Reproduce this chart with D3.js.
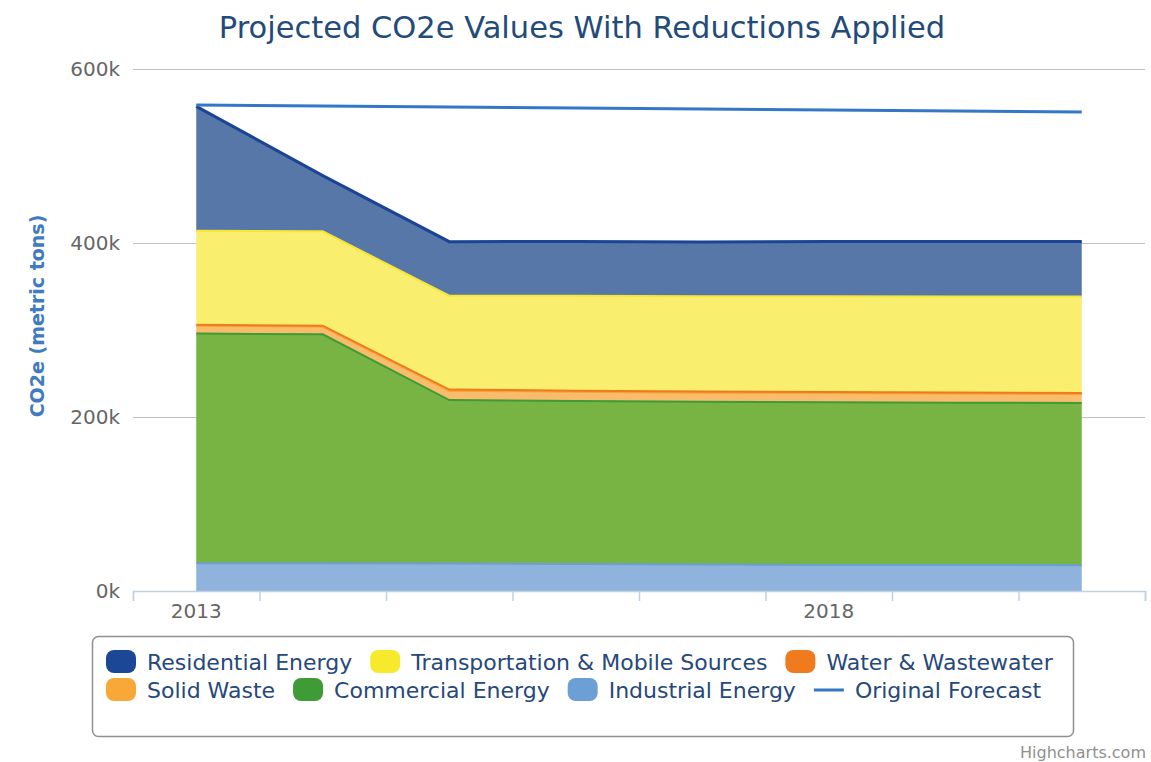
<!DOCTYPE html>
<html>
<head>
<meta charset="utf-8">
<title>Projected CO2e Values With Reductions Applied</title>
<style>
  body { margin: 0; background: #fff; }
  svg text { font-family: "DejaVu Sans", Verdana, sans-serif; }
</style>
</head>
<body>
<svg width="1151" height="762"></svg>
<script src="https://d3js.org/d3.v7.min.js"></script>
<script>

// data (metric tons CO2e)
var years = [2013, 2014, 2015, 2016, 2017, 2018, 2019, 2020];
var residential    = [143000, 64000, 62000, 62500, 62500, 63000, 63000, 63000];
var transportation = [108000, 108500, 108000, 109000, 109500, 110000, 110500, 111000];
var water          = [1000, 1000, 1200, 1200, 1200, 1200, 1200, 1200];
var solidWaste     = [9000, 9000, 10800, 10600, 10500, 10500, 10400, 10400];
var commercial     = [264000, 263000, 188000, 187500, 187000, 187000, 186500, 186500];
var industrial     = [32000, 32000, 31500, 31000, 30500, 30000, 30000, 29500];
var forecast       = [558500, 557500, 556300, 555200, 554000, 552900, 551800, 550600];
var yTicks = [0, 200000, 400000, 600000];
var xLabels = [2013, 2018];

var series = [
  { key: "Residential Energy", values: residential, line: "#1c4494", fill: "#5777a9", legend: "#1c4796", width: 3 },
  { key: "Transportation & Mobile Sources", values: transportation, line: "#f6e637", fill: "#f9ee6e", legend: "#f7ea2d", width: 2 },
  { key: "Water & Wastewater", values: water, line: "#f07b1e", fill: "#f49a52", legend: "#f07b1e", width: 2 },
  { key: "Solid Waste", values: solidWaste, line: "#f5a331", fill: "#f8bc6c", legend: "#f8a838", width: 2 },
  { key: "Commercial Energy", values: commercial, line: "#3e9b35", fill: "#78b443", legend: "#3e9b35", width: 2 },
  { key: "Industrial Energy", values: industrial, line: "#6b9fd6", fill: "#8fb3dc", legend: "#6b9fd6", width: 2 }
];

var svg = d3.select("svg");
var plotLeft = 133, plotRight = 1145, plotTop = 69, plotBottom = 591;

var x = d3.scaleLinear().domain([years[0] - 0.5, years[years.length - 1] + 0.5]).range([plotLeft, plotRight]);
var y = d3.scaleLinear().domain([0, 600000]).range([plotBottom, plotTop]);

// table for stacking, bottom series first
var rows = years.map(function(yr, i) {
  var r = { year: yr };
  series.forEach(function(s) { r[s.key] = s.values[i]; });
  return r;
});
var stackOrder = series.slice().reverse();
var stacked = d3.stack().keys(stackOrder.map(function(s) { return s.key; }))(rows);

// title
svg.append("text")
    .attr("x", 582).attr("y", 38)
    .attr("text-anchor", "middle")
    .style("font-size", "30.5px")
    .style("fill", "#234b7a")
    .text("Projected CO2e Values With Reductions Applied");

// grid
svg.append("g")
  .selectAll("line")
  .data(yTicks.filter(function(d) { return d > 0; }))
  .enter().append("line")
    .attr("x1", plotLeft).attr("x2", plotRight)
    .attr("y1", function(d) { return y(d) + 0.5; })
    .attr("y2", function(d) { return y(d) + 0.5; })
    .style("stroke", "#c4bfbf")
    .style("stroke-width", 1);

// y axis labels
var yAxis = svg.append("g")
    .attr("transform", "translate(" + (plotLeft - 13) + ",0)")
    .call(d3.axisLeft(y).tickValues(yTicks).tickSize(0).tickPadding(0)
      .tickFormat(function(d) { return d / 1000 + "k"; }));
yAxis.select(".domain").remove();
yAxis.selectAll("text")
    .style("font-size", "20px")
    .style("fill", "#666")
    .style("font-family", "DejaVu Sans, sans-serif");

svg.append("text")
    .attr("transform", "translate(44,316) rotate(-90)")
    .attr("text-anchor", "middle")
    .style("font-size", "19px")
    .style("font-weight", "bold")
    .style("fill", "#3f7bc0")
    .text("CO2e (metric tons)");

// areas
var area = d3.area()
    .x(function(d) { return x(d.data.year); })
    .y0(function(d) { return y(d[0]); })
    .y1(function(d) { return y(d[1]); });
var topLine = d3.line()
    .x(function(d) { return x(d.data.year); })
    .y(function(d) { return y(d[1]); });

svg.append("g").selectAll("path")
  .data(stacked)
  .enter().append("path")
    .attr("d", area)
    .style("fill", function(d, i) { return stackOrder[i].fill; });

svg.append("g").selectAll("path")
  .data(stacked)
  .enter().append("path")
    .attr("d", topLine)
    .style("fill", "none")
    .style("stroke", function(d, i) { return stackOrder[i].line; })
    .style("stroke-width", function(d, i) { return stackOrder[i].width; });

// original forecast
svg.append("path")
    .datum(forecast)
    .attr("d", d3.line()
      .x(function(d, i) { return x(years[i]); })
      .y(function(d) { return y(d); }))
    .style("fill", "none")
    .style("stroke", "#3377c6")
    .style("stroke-width", 3);

// x axis
var tickYears = d3.range(years[0] - 0.5, years[years.length - 1] + 1, 1);
var xAxis = svg.append("g")
    .attr("transform", "translate(0," + plotBottom + ")")
    .call(d3.axisBottom(x).tickValues(tickYears).tickSize(10).tickFormat(""));
xAxis.select(".domain").style("stroke", "#c0d0e0").style("stroke-width", 1.5);
xAxis.selectAll(".tick line").style("stroke", "#c0d0e0").style("stroke-width", 1.5);

svg.append("g").selectAll("text")
  .data(xLabels)
  .enter().append("text")
    .attr("x", function(d) { return x(d); })
    .attr("y", 618)
    .attr("text-anchor", "middle")
    .style("font-size", "20px")
    .style("fill", "#666")
    .text(function(d) { return d; });

// legend
svg.append("rect")
    .attr("x", 92.5).attr("y", 636.5)
    .attr("width", 981).attr("height", 100)
    .attr("rx", 6)
    .style("fill", "#fff")
    .style("stroke", "#909090")
    .style("stroke-width", 1.5);

var legendItems = [series[0], series[1], series[2], series[3], series[4], series[5],
  { key: "Original Forecast", isLine: true, legend: "#3377c6" }];

var lx = 106, ly = 662, rowH = 28, maxX = 1066;
var legend = svg.append("g");
legendItems.forEach(function(s) {
  var g = legend.append("g");
  var t = g.append("text")
      .attr("x", 41).attr("y", 0).attr("dy", "0.35em")
      .style("font-size", "22px")
      .style("fill", "#26487a")
      .text(s.key);
  var w = 41 + t.node().getComputedTextLength();
  if (lx + w > maxX) { lx = 106; ly += rowH; }
  g.attr("transform", "translate(" + lx + "," + ly + ")");
  if (s.isLine) {
    g.append("line").attr("x1", 0).attr("x2", 30).attr("y1", 0).attr("y2", 0)
      .style("stroke", s.legend).style("stroke-width", 3);
  } else {
    g.append("rect").attr("x", 0).attr("y", -12).attr("width", 30).attr("height", 23)
      .attr("rx", 8).style("fill", s.legend);
  }
  lx += w + 18;
});

// credits
svg.append("text")
    .attr("x", 1146).attr("y", 758)
    .attr("text-anchor", "end")
    .style("font-size", "16px")
    .style("fill", "#909090")
    .text("Highcharts.com");

</script>
</body>
</html>
